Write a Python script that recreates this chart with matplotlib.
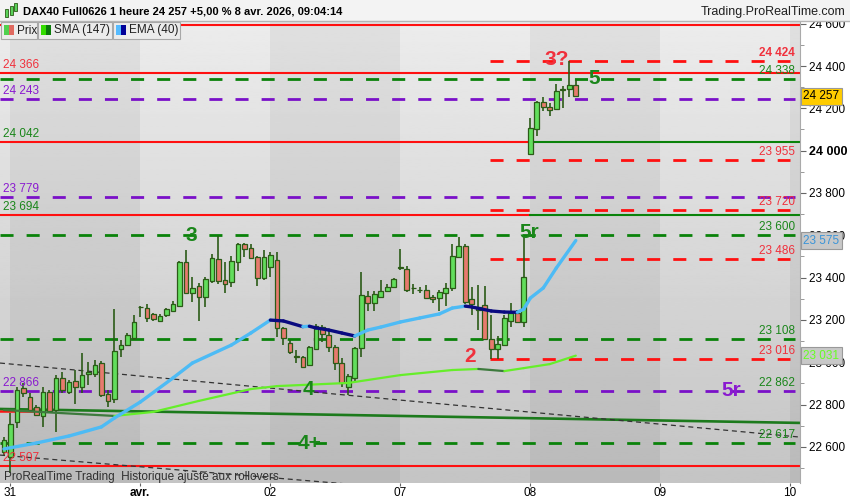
import matplotlib
matplotlib.use("Agg")
import matplotlib.pyplot as plt
import numpy as np
from matplotlib.patches import Rectangle
from matplotlib.collections import LineCollection
from matplotlib.transforms import blended_transform_factory

plt.rcParams['font.family'] = ['Liberation Sans', 'DejaVu Sans']

# bougies horaires DAX40 (index 0 = derniere bougie du 30 mars)
opens = [22576, 22552, 22717, 22878, 22835, 22788, 22746, 22859, 22774, 22925,
         22859, 22911, 22883, 22944, 22944, 22996, 22850, 22826, 23062, 23081,
         23114, 23261, 23256, 23228, 23195, 23223, 23242, 23266, 23474, 23327,
         23360, 23308, 23384, 23488, 23388, 23379, 23474, 23559, 23540, 23497,
         23398, 23450, 23483, 23162, 23091, 23027, 23025, 22987, 23062, 23166,
         23128, 23072, 22996, 22883, 22925, 23067, 23313, 23280, 23308, 23336,
         23355, 23445, 23440, 23351, 23341, 23341, 23308, 23303, 23327, 23351,
         23497, 23549, 23299, 23261, 23270, 23110, 23062, 23081, 23195, 23232,
         23190, 23984, 24102, 24230, 24206, 24197, 24286, 24291, 24310]
highs = [22646, 22760, 22883, 22902, 22854, 22798, 22883, 22869, 22939, 22954,
         22916, 22963, 23043, 23001, 23010, 23006, 22869, 23251, 23105, 23138,
         23223, 23266, 23275, 23232, 23228, 23256, 23289, 23478, 23530, 23403,
         23374, 23403, 23511, 23596, 23474, 23502, 23563, 23563, 23559, 23502,
         23530, 23521, 23521, 23166, 23105, 23058, 23029, 23077, 23180, 23176,
         23152, 23081, 23020, 22944, 23072, 23426, 23336, 23336, 23388, 23370,
         23398, 23535, 23455, 23370, 23355, 23365, 23318, 23341, 23374, 23559,
         23592, 23559, 23355, 23365, 23360, 23223, 23124, 23223, 23280, 23247,
         23596, 24154, 24234, 24253, 24225, 24315, 24305, 24424, 24334]
lows = [22561, 22476, 22689, 22835, 22765, 22746, 22694, 22765, 22670, 22854,
        22850, 22802, 22854, 22892, 22930, 22835, 22788, 22807, 23025, 23077,
        23105, 23214, 23190, 23195, 23190, 23214, 23237, 23261, 23322, 23284,
        23195, 23261, 23374, 23370, 23327, 23355, 23431, 23497, 23488, 23360,
        23388, 23403, 23119, 23081, 23039, 22996, 22972, 22982, 23058, 23095,
        23048, 22963, 22883, 22845, 22906, 23025, 23242, 23242, 23303, 23332,
        23351, 23436, 23332, 23322, 23327, 23299, 23280, 23242, 23266, 23336,
        23492, 23275, 23223, 23152, 23105, 23015, 23015, 23077, 23166, 23185,
        23166, 23979, 24069, 24187, 24163, 24195, 24201, 24253, 24253]
closes = [22632, 22708, 22869, 22854, 22774, 22750, 22859, 22769, 22925, 22869,
          22906, 22883, 22939, 22954, 22987, 22845, 22817, 23053, 23081, 23128,
          23190, 23259, 23209, 23204, 23218, 23251, 23275, 23474, 23327, 23351,
          23308, 23393, 23492, 23384, 23370, 23478, 23559, 23535, 23492, 23398,
          23497, 23507, 23162, 23114, 23048, 23024, 22977, 23072, 23171, 23133,
          23072, 22996, 22902, 22935, 23067, 23318, 23280, 23322, 23336, 23355,
          23393, 23450, 23341, 23349, 23339, 23303, 23299, 23332, 23351, 23502,
          23549, 23284, 23275, 23247, 23110, 23062, 23086, 23209, 23232, 23190,
          23403, 24107, 24230, 24206, 24192, 24282, 24289, 24310, 24257]

# moyennes mobiles
sma_idx = [0, 17, 23, 30, 38, 42, 53, 61, 69, 73, 77, 80, 84, 88]
sma_val = [22774, 22746, 22765, 22817, 22873, 22887, 22902, 22939, 22963, 22968,
           22958, 22972, 22991, 23031]
ema_idx = [0, 5, 10, 15, 17, 21, 26, 29, 35, 38, 41, 43, 46, 47, 48, 50, 52, 54,
           56, 58, 61, 64, 67, 69, 71, 72, 75, 77, 79, 80, 81, 83, 85, 88]
ema_val = [22590, 22618, 22651, 22694, 22736, 22812, 22925, 22996, 23081, 23138,
           23199, 23195, 23168, 23170, 23162, 23152, 23138, 23124, 23152, 23166,
           23190, 23209, 23228, 23256, 23265, 23261, 23242, 23237, 23236, 23251,
           23303, 23351, 23445, 23575]

# jours
day_pos = [0.9, 20.9, 40.9, 60.9, 80.9, 100.9, 120.9]
day_names = ['31', 'avr.', '02', '07', '08', '09', '10']

# niveaux horizontaux
red_solid = [24595, 24366, 22507]
red_then_green = [24042, 23694]
green_dashed = [24338, 23600, 23108, 22617]
purple_dashed = [24243, 23779, 22864]
red_dashed = [24424, 23955, 23720, 23486, 23016]

left_labels = [("24 366", 24366, 'red'), ("24 243", 24243, 'purple'),
               ("24 042", 24042, 'green'), ("23 779", 23779, 'purple'),
               ("23 694", 23694, 'green'), ("22 866", 22864, 'purple'),
               ("22 507", 22507, 'red')]
right_labels = [("24 424", 24424, 'red'), ("24 338", 24338, 'green'),
                ("23 955", 23955, 'red'), ("23 720", 23720, 'red'),
                ("23 600", 23600, 'green'), ("23 486", 23486, 'red'),
                ("23 108", 23108, 'green'), ("23 016", 23016, 'red'),
                ("22 862", 22864, 'green'), ("22 617", 22617, 'green')]

# comptage des vagues
waves = [("3", 28.9, 23601, 'green'), ("3?", 85.1, 24433, 'red'),
         ("5", 90.9, 24343, 'green'), ("5r", 80.9, 23611, 'green'),
         ("2", 71.8, 23029, 'red'), ("4", 46.9, 22869, 'green'),
         ("4+", 47.1, 22618, 'green'), ("5r", 112.0, 22864, 'purple')]

COL = {'red': '#ff1010', 'green': '#0a820a', 'purple': '#7a10c8'}
TXT = {'red': '#f0303c', 'green': '#1a861a', 'purple': '#8a1ad0'}

W, H = 850, 500
fig = plt.figure(figsize=(W / 100, H / 100), dpi=100, facecolor='white')
ax = fig.add_axes([0, 17 / H, 800 / W, 461 / H])
xmin, xmax = -0.6, 122.5
ymin, ymax = 22429, 24608

# fond degrade + bandes des jours
grad = np.linspace(0.77, 0.925, 256).reshape(-1, 1)
ax.imshow(grad, extent=[0, 1, 0, 1], transform=ax.transAxes, cmap='gray',
          vmin=0, vmax=1, aspect='auto', origin='lower', zorder=0)
for k in range(0, len(day_pos), 2):
    end = day_pos[k + 1] if k + 1 < len(day_pos) else xmax + 1
    ax.axvspan(day_pos[k], end, color='black', alpha=0.05, lw=0, zorder=0.5)

dash = (0, (4.7, 4.7))
for v in red_solid:
    ax.plot([xmin, xmax], [v, v], color=COL['red'], lw=1.5, zorder=2)
ax.plot([xmin, 6], [22769, 22769], color=COL['red'], lw=1.8, zorder=2)
for v in red_then_green:
    ax.plot([xmin, day_pos[4]], [v, v], color=COL['red'], lw=1.5, zorder=2)
    ax.plot([day_pos[4], xmax], [v, v], color=COL['green'], lw=1.5, zorder=2)
for v in green_dashed:
    ax.plot([xmin, 121.7], [v, v], color=COL['green'], lw=2, ls=dash, zorder=2)
for v in purple_dashed:
    ax.plot([xmin, 121.7], [v, v], color=COL['purple'], lw=2, ls=dash, zorder=2)
for v in red_dashed:
    ax.plot([74.8, 121.0], [v, v], color=COL['red'], lw=2, ls=dash, zorder=2)

# lignes de tendance
ax.plot([xmin, xmax], [22779, 22713], color='#1c7a1c', lw=1.9, zorder=2.5)
ax.plot([xmin, xmax], [22996, 22646], color='#333333', lw=0.9, ls=(0, (4, 3)), zorder=2.5)
ax.plot([xmin, 60], [22561, 22406], color='#333333', lw=0.9, ls=(0, (4, 3)), zorder=2.5)

# bougies
idx = np.arange(len(opens))
o = np.array(opens); c = np.array(closes)
up = c >= o
edge = '#2b5b17'
ax.vlines(idx, lows, highs, color=edge, lw=1.2, zorder=4)
ax.bar(idx, np.maximum(np.abs(c - o), 2), bottom=np.minimum(o, c), width=0.72,
       color=np.where(up, '#62de5c', '#e77a6e'), edgecolor=edge, linewidth=0.9, zorder=5)

def colored_line(xs, ys, c_up, c_down, lw):
    pts = np.column_stack([xs, ys])
    segs = np.stack([pts[:-1], pts[1:]], axis=1)
    cols = [c_up if ys[k + 1] >= ys[k] else c_down for k in range(len(ys) - 1)]
    ax.add_collection(LineCollection(segs, colors=cols, linewidths=lw,
                                     capstyle='round', joinstyle='round', zorder=6))

colored_line(sma_idx, sma_val, '#66ee2a', '#3d7a3d', 1.6)
colored_line(ema_idx, ema_val, '#4dbbf5', '#0a0a80', 2.4)

# textes des niveaux
tl = blended_transform_factory(ax.transAxes, ax.transData)
for s, v, col in left_labels:
    ax.annotate(s, (0.004, v), xycoords=tl, xytext=(0, 1.5), textcoords='offset points',
                ha='left', va='bottom', fontsize=8.5, color=TXT[col], zorder=7)
for s, v, col in right_labels:
    ax.annotate(s, (0.994, v), xycoords=tl, xytext=(0, 1.5), textcoords='offset points',
                ha='right', va='bottom', fontsize=8.5, color=TXT[col], zorder=7,
                fontweight='bold' if s == "24 424" else 'normal')

for s, x, v, col in waves:
    ax.text(x, v, s, ha='center', va='center', fontsize=15, fontweight='bold',
            color=TXT[col], zorder=8)

ax.text(0.005, 0.006, "ProRealTime Trading  Historique ajusté aux rollovers",
        transform=ax.transAxes, fontsize=8.5, color='#303030', zorder=8)

ax.set_xlim(xmin, xmax)
ax.set_ylim(ymin, ymax)

# axes
ax.yaxis.tick_right()
yt = list(range(22600, 24601, 200))
ax.set_yticks(yt)
ax.set_yticklabels([f"{v:,}".replace(",", " ") for v in yt])
ax.set_yticks(range(22500, 24601, 100), minor=True)
ax.tick_params(axis='y', which='major', length=4, color='#666666', labelsize=8.5, pad=2.5)
ax.tick_params(axis='y', which='minor', length=3, color='#888888')
for lab in ax.get_yticklabels():
    if lab.get_text() == "24 000":
        lab.set_fontweight('bold')
        lab.set_fontsize(9)
ax.set_xticks(day_pos)
ax.set_xticklabels(day_names)
ax.tick_params(axis='x', length=2.5, color='#666666', labelsize=8.5, pad=0.5)
for lab in ax.get_xticklabels():
    if lab.get_text() == 'avr.':
        lab.set_fontweight('bold')
for sp in ['top', 'left', 'bottom']:
    ax.spines[sp].set_visible(False)
ax.spines['right'].set_color('#aaaaaa')

# etiquettes de prix sur l'axe
for s, v, fc, tc in [("24 257", 24257, '#ffcc00', 'black'),
                     ("23 575", 23575, '#c8c8c8', '#3a94d8'),
                     ("23 031", 23031, '#c8c8c8', '#66ff22')]:
    ax.text(1.004, v, s, transform=tl, ha='left', va='center', fontsize=8.5,
            color=tc, clip_on=False, zorder=9,
            bbox=dict(boxstyle='square,pad=0.2', fc=fc, ec='#999999', lw=0.8))

# en-tete
def fx(x):
    return x / W

def fy(y):
    return 1 - y / H

fig.add_artist(Rectangle((0, fy(21)), 1, 21 / H, transform=fig.transFigure,
                         fc='#f3f3f3', ec='none', zorder=1))
fig.add_artist(plt.Line2D([0, 1], [fy(21), fy(21)], transform=fig.transFigure,
                          color='#b5b5b5', lw=1, zorder=2))
for x0, y0, hgt, col in [(5, 9, 8, '#5bd35b'), (10, 6, 9, '#5bd35b'), (14, 3, 8, '#5bd35b')]:
    fig.add_artist(Rectangle((fx(x0), fy(y0 + hgt)), 3 / W, hgt / H, transform=fig.transFigure,
                             fc=col, ec='#2b5b17', lw=0.6, zorder=3))
fig.text(fx(23), fy(12), "DAX40 Full0626 1 heure 24 257 +5,00 % 8 avr. 2026, 09:04:14",
         fontsize=8, fontweight='bold', va='center', ha='left', color='black')
fig.text(fx(845), fy(12), "Trading.ProRealTime.com", fontsize=9, va='center',
         ha='right', color='#202020')

# legende
legend = [(1, 37, 'Prix', '#4fd14f', '#e06a60'),
          (38, 112, 'SMA (147)', '#33dd00', '#0a7a0a'),
          (113, 180, 'EMA (40)', '#55bbff', '#000099')]
for x0, x1, s, c1, c2 in legend:
    fig.add_artist(Rectangle((fx(x0), fy(39)), (x1 - x0) / W, 17 / H, transform=fig.transFigure,
                             fc='#ececec', ec='#a8a8a8', lw=0.8, zorder=10))
    fig.add_artist(Rectangle((fx(x0 + 3), fy(35)), 5 / W, 10 / H, transform=fig.transFigure,
                             fc=c1, ec='none', zorder=11))
    fig.add_artist(Rectangle((fx(x0 + 8), fy(35)), 5 / W, 10 / H, transform=fig.transFigure,
                             fc=c2, ec='none', zorder=11))
    fig.text(fx(x0 + 16), fy(30.5), s, fontsize=8.5, va='center', ha='left',
             color='#202020', zorder=12)

fig.savefig("out.png", dpi=100, facecolor='white')
